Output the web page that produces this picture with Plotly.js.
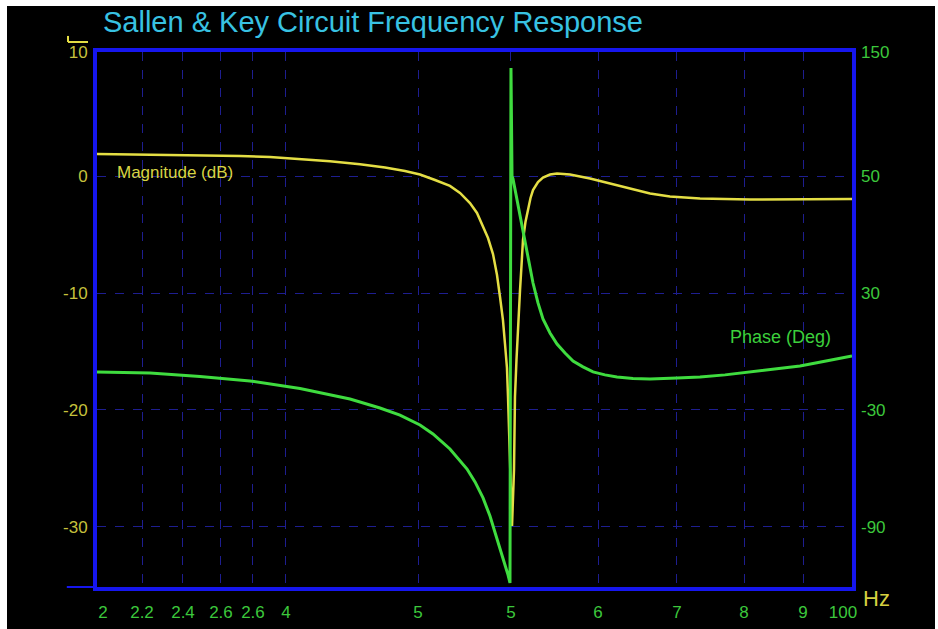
<!DOCTYPE html>
<html>
<head>
<meta charset="utf-8">
<script src="https://cdn.plot.ly/plotly-3.0.1.min.js"></script>
<style>
  html, body { margin: 0; padding: 0; background: #ffffff; width: 938px; height: 629px; overflow: hidden; }
  #plot { position: absolute; left: 7px; top: 6px; width: 928px; height: 623px; background: #000; }
</style>
</head>
<body>
<div id="plot"></div>
<script>
// Sweep position (0 = left edge, 100 = right edge of the plot) and the printed tick labels
const xTickVals = [0.8, 5.96, 11.39, 16.42, 20.66, 25.03, 42.52, 54.83, 66.36, 76.82, 85.70, 93.51, 98.8];
const xTickText = ['2', '2.2', '2.4', '2.6', '2.6', '4', '5', '5', '6', '7', '8', '9', '100'];
const xGridVals = [5.96, 11.39, 16.42, 20.66, 25.03, 42.52, 54.83, 66.36, 76.82, 85.70, 93.51];

// Magnitude (dB)
const magX  = [0, 4.37, 9.01, 13.64, 18.94, 22.91, 26.89, 30.86, 34.83, 38.15, 40.79, 42.78, 44.77, 46.75, 48.08, 49.40, 50.33, 51.13, 51.79, 52.45, 52.98, 53.38, 53.77, 54.04, 54.30, 54.44, 54.57, 54.70, 54.83, 54.97, 55.23, 55.36, 55.56, 55.76, 56.03, 56.23, 56.42, 56.75, 57.09, 57.42, 57.75, 58.41, 59.07, 60.0, 60.93, 62.65, 65.30, 67.95, 70.60, 73.25, 75.89, 79.87, 86.49, 93.11, 100];
const magDb = [1.88, 1.85, 1.81, 1.78, 1.71, 1.62, 1.47, 1.26, 1.0, 0.73, 0.43, 0.13, -0.34, -0.85, -1.45, -2.31, -3.16, -4.27, -5.30, -6.67, -8.46, -10.34, -12.31, -14.36, -16.41, -18.89, -21.71, -25.13, -27.69, -29.91, -25.13, -18.89, -15.73, -12.82, -9.74, -7.61, -5.47, -3.93, -2.74, -1.88, -1.20, -0.51, -0.13, 0.13, 0.21, 0.13, -0.21, -0.64, -1.11, -1.50, -1.75, -1.92, -2.01, -2.01, -1.97];

// Phase (Deg)
const phaseX   = [0, 7.02, 13.64, 20.26, 26.89, 33.51, 37.48, 40.13, 42.78, 44.50, 46.75, 49.01, 50.07, 51.13, 52.05, 52.98, 53.51, 54.04, 54.44, 54.70, 54.83, 54.97, 55.10, 55.76, 56.42, 57.09, 57.75, 58.41, 59.07, 60.0, 60.93, 61.99, 63.05, 64.37, 65.70, 67.28, 68.87, 70.99, 73.25, 76.82, 79.87, 83.18, 86.49, 89.80, 93.11, 96.56, 100];
const phaseDeg = [-10.5, -11.0, -12.8, -15.1, -19.0, -24.4, -29.0, -32.6, -37.7, -42.3, -50.0, -60.3, -66.9, -75.1, -84.4, -95.6, -102.3, -109.5, -114.6, -118.7, 145.4, 90, 88.5, 75.6, 62.8, 48.5, 35.1, 24.9, 16.7, 9.5, 3.8, -0.8, -4.9, -7.9, -10.5, -12.0, -13.1, -13.8, -14.1, -13.6, -13.1, -12.0, -10.5, -9.0, -7.4, -4.9, -2.3];

// Axis tick labels
const magTickVals = [-30, -20, -10, 0, 10.6];
const magTickText = ['-30', '-20', '-10', '0', '10'];
const phaseTickVals = [-90, -30, 30, 90, 153.6];
const phaseTickText = ['-90', '-30', '30', '50', '150'];

const FONT = 'Liberation Sans, Arial, sans-serif';
const YEL = '#e4de44';
const GRN = '#3fdc3f';
const BLUE = '#1616ee';
const GRID = '#1e1e90';

const traces = [
  { x: phaseX, y: phaseDeg, yaxis: 'y2', type: 'scatter', mode: 'lines',
    line: { color: GRN, width: 3 }, hoverinfo: 'skip' },
  { x: magX, y: magDb, yaxis: 'y', type: 'scatter', mode: 'lines',
    line: { color: YEL, width: 2.5 }, hoverinfo: 'skip' }
];

const layout = {
  width: 928, height: 623,
  paper_bgcolor: '#000', plot_bgcolor: '#000',
  showlegend: false,
  margin: { l: 90, r: 83, t: 46, b: 42 },
  title: {
    text: 'Sallen &amp; Key Circuit Frequency Response',
    x: 96 / 928, xref: 'container', xanchor: 'left',
    y: 1 - 16 / 623, yref: 'container', yanchor: 'middle',
    font: { family: FONT, size: 29, color: '#38c2e2' }
  },
  xaxis: {
    range: [0, 100], tickmode: 'array', tickvals: xTickVals, ticktext: xTickText,
    showgrid: false, zeroline: false, ticks: '', ticklabelstandoff: 7,
    showline: true, linecolor: BLUE, linewidth: 4, mirror: true,
    tickfont: { family: FONT, size: 17, color: '#3cc83c' },
    minor: { tickmode: 'array', tickvals: xGridVals, showgrid: true, gridcolor: GRID, gridwidth: 1, griddash: 'dash', ticks: '' }
  },
  yaxis: {
    range: [-35.13, 10.6], tickmode: 'array', tickvals: magTickVals, ticktext: magTickText,
    showgrid: true, gridcolor: GRID, gridwidth: 1, griddash: 'dash', zeroline: false, ticks: '', ticklabelstandoff: 2,
    showline: true, linecolor: BLUE, linewidth: 4, mirror: true,
    tickfont: { family: FONT, size: 17, color: '#c6c23c' }
  },
  yaxis2: {
    range: [-120.8, 153.6], overlaying: 'y', side: 'right',
    tickmode: 'array', tickvals: phaseTickVals, ticktext: phaseTickText,
    showgrid: false, zeroline: false, ticks: '', showline: false, ticklabelstandoff: 8,
    tickfont: { family: FONT, size: 17, color: '#3cc83c' }
  },
  annotations: [
    { text: 'Magnitude (dB)', x: 2.4, y: 0.26, xref: 'x', yref: 'y', xanchor: 'left', yanchor: 'middle',
      showarrow: false, font: { family: FONT, size: 17, color: '#d8d444' } },
    { text: 'Phase (Deg)', x: 97.5, y: 7.4, xref: 'x', yref: 'y2', xanchor: 'right', yanchor: 'middle',
      showarrow: false, font: { family: FONT, size: 18, color: '#3cd03c' } },
    { text: 'Hz', x: 1.033, y: -0.0206, xref: 'paper', yref: 'paper', xanchor: 'center', yanchor: 'middle',
      showarrow: false, font: { family: FONT, size: 22, color: '#d6d040' } }
  ],
  shapes: [
    { type: 'line', xref: 'paper', yref: 'paper', x0: -0.0384, x1: -0.0119, y0: 1.0187, y1: 1.0187, line: { color: YEL, width: 2 } },
    { type: 'line', xref: 'paper', yref: 'paper', x0: -0.0384, x1: -0.0384, y0: 1.0187, y1: 1.030, line: { color: YEL, width: 2 } },
    { type: 'line', xref: 'paper', yref: 'paper', x0: -0.04, x1: 0, y0: 0, y1: 0, line: { color: BLUE, width: 2 } }
  ]
};

Plotly.newPlot('plot', traces, layout, { staticPlot: true, displayModeBar: false });
</script>
</body>
</html>
